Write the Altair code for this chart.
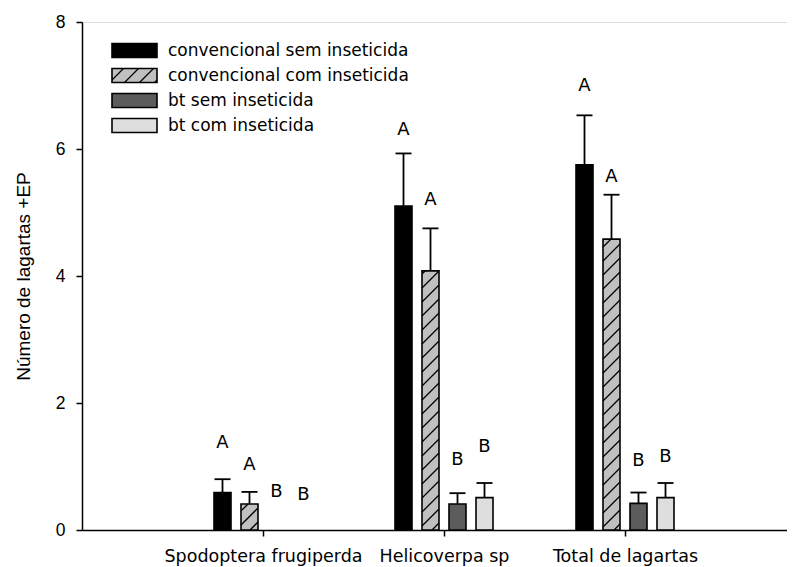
import math
import altair as alt
import pandas as pd

# ---------------- data ----------------
categories = ["Spodoptera frugiperda", "Helicoverpa sp", "Total de lagartas"]
series = [
    "convencional sem inseticida",
    "convencional com inseticida",
    "bt sem inseticida",
    "bt com inseticida",
]
means_conv_sem = [0.59, 5.10, 5.75]
means_conv_com = [0.41, 4.08, 4.58]
means_bt_sem = [0.0, 0.41, 0.42]
means_bt_com = [0.0, 0.51, 0.51]
se_conv_sem = [0.21, 0.83, 0.78]
se_conv_com = [0.19, 0.67, 0.70]
se_bt_sem = [0.0, 0.17, 0.17]
se_bt_com = [0.0, 0.23, 0.23]
letters_conv_sem = ["A", "A", "A"]
letters_conv_com = ["A", "A", "A"]
letters_bt_sem = ["B", "B", "B"]
letters_bt_com = ["B", "B", "B"]
letter_y_conv_sem = [1.37, 6.30, 7.00]
letter_y_conv_com = [1.02, 5.20, 5.56]
letter_y_bt_sem = [0.60, 1.10, 1.08]
letter_y_bt_com = [0.55, 1.31, 1.15]
y_ticks = [0, 2, 4, 6, 8]

means = [means_conv_sem, means_conv_com, means_bt_sem, means_bt_com]
ses = [se_conv_sem, se_conv_com, se_bt_sem, se_bt_com]
letters = [letters_conv_sem, letters_conv_com, letters_bt_sem, letters_bt_com]
letter_ys = [letter_y_conv_sem, letter_y_conv_com, letter_y_bt_sem, letter_y_bt_com]

# ---------------- layout / style ----------------
W, H = 705, 508
PX_X = 181.0            # pixels per category unit
PX_Y = H / 8.0          # pixels per y unit
XMAX = W / PX_X
offsets_px = [-40.5, -13.5, 13.5, 40.5]
BAR_HALF_PX = 8.5
CAP_HALF_PX = 8.0
fills = ["#000000", "#c0c0c0", "#5c5c5c", "#dedede"]
hatched = [False, True, False, False]
HATCH_SP = 14.0


def hatch(l, r, b, t, s=HATCH_SP):
    segs = []
    k0 = math.ceil((b - r) / s)
    k1 = math.floor((t - l) / s)
    for k in range(k0, k1 + 1):
        c = k * s
        u0 = max(l, b - c)
        u1 = min(r, t - c)
        if u1 > u0:
            segs.append((u0, u0 + c, u1, u1 + c))
    return segs


bar_rows, hatch_rows, err_rows, lab_rows = [], [], [], []
for si, name in enumerate(series):
    for ci, cat in enumerate(categories):
        xc = ci + 1 + offsets_px[si] / PX_X
        m = means[si][ci]
        e = ses[si][ci]
        lab_rows.append({"xc": xc, "ly": letter_ys[si][ci], "letter": letters[si][ci]})
        if m <= 0:
            continue
        x0 = xc - BAR_HALF_PX / PX_X
        x1 = xc + BAR_HALF_PX / PX_X
        bar_rows.append({"x0": x0, "x1": x1, "m": m, "base": 0.0, "fill": fills[si]})
        err_rows.append({"xc": xc, "m": m, "top": m + e,
                         "c0": xc - CAP_HALF_PX / PX_X, "c1": xc + CAP_HALF_PX / PX_X})
        if hatched[si]:
            for (u0, v0, u1, v1) in hatch(x0 * PX_X, x1 * PX_X, 0.0, m * PX_Y):
                hatch_rows.append({"hx0": u0 / PX_X, "hy0": v0 / PX_Y,
                                   "hx1": u1 / PX_X, "hy1": v1 / PX_Y})

# legend (positions in pixels of the plot area, converted to data units)
LEG_X0, LEG_X1, LEG_TX = 30, 75, 86
LEG_Y0, LEG_STEP, LEG_HALF = 28.5, 25.0, 7.0
leg_rows, leg_hatch = [], []
for si, name in enumerate(series):
    cy = LEG_Y0 + si * LEG_STEP
    top_px = H - (cy - LEG_HALF)
    bot_px = H - (cy + LEG_HALF)
    leg_rows.append({"x0": LEG_X0 / PX_X, "x1": LEG_X1 / PX_X,
                     "y0": bot_px / PX_Y, "y1": top_px / PX_Y,
                     "ty": (H - cy) / PX_Y, "tx": LEG_TX / PX_X,
                     "fill": fills[si], "name": name})
    if hatched[si]:
        for (u0, v0, u1, v1) in hatch(LEG_X0, LEG_X1, bot_px, top_px, 15.0):
            leg_hatch.append({"hx0": u0 / PX_X, "hy0": v0 / PX_Y,
                              "hx1": u1 / PX_X, "hy1": v1 / PX_Y})

bars = pd.DataFrame(bar_rows)
hatches = pd.DataFrame(hatch_rows)
errs = pd.DataFrame(err_rows)
labs = pd.DataFrame(lab_rows)
leg = pd.DataFrame(leg_rows)
legh = pd.DataFrame(leg_hatch)

label_expr = " : ".join(
    f"datum.value == {i + 1} ? '{c}'" for i, c in enumerate(categories)
) + " : ''"

xscale = alt.Scale(domain=[0, XMAX], nice=False, zero=False)
yscale = alt.Scale(domain=[0, 8], nice=False)

xaxis = alt.Axis(values=[1, 2, 3], labelExpr=label_expr, grid=False, title=None,
                 tickSize=6, tickColor="black", tickWidth=1.5,
                 domainColor="black", domainWidth=1.5,
                 labelFont="DejaVu Sans", labelFontSize=17.5, labelColor="black",
                 labelPadding=11, labelFlush=False, labelOverlap=False, labelLimit=0)
yaxis = alt.Axis(values=y_ticks, format="d", grid=False, title="Número de lagartas +EP",
                 tickSize=6, tickColor="black", tickWidth=1.5,
                 domainColor="black", domainWidth=1.5,
                 labelFont="Liberation Sans", labelFontSize=17.5, labelColor="black",
                 labelPadding=11,
                 titleFont="Liberation Sans", titleFontSize=19, titleFontWeight="normal",
                 titleColor="black", titleX=-59, titleY=254, titleAngle=270,
                 titleAlign="center", titleBaseline="middle")

X = lambda f: alt.X(f, type="quantitative", scale=xscale)
Y = lambda f: alt.Y(f, type="quantitative", scale=yscale)

bar_fill = alt.Chart(bars).mark_rect(strokeWidth=0).encode(
    x=alt.X("x0:Q", scale=xscale, axis=xaxis), x2="x1",
    y=alt.Y("m:Q", scale=yscale, axis=yaxis), y2="base",
    fill=alt.Fill("fill:N", scale=None))
hatch_lines = alt.Chart(hatches).mark_rule(color="black", strokeWidth=1.3).encode(
    x=X("hx0"), y=Y("hy0"), x2="hx1", y2="hy1")
bar_outline = alt.Chart(bars).mark_rect(fillOpacity=0, stroke="black", strokeWidth=1.6).encode(
    x=X("x0"), x2="x1", y=Y("m"), y2="base")
err_v = alt.Chart(errs).mark_rule(color="black", strokeWidth=1.8).encode(
    x=X("xc"), y=Y("m"), y2="top")
err_cap = alt.Chart(errs).mark_rule(color="black", strokeWidth=1.8).encode(
    x=X("c0"), x2="c1", y=Y("top"))
letter_text = alt.Chart(labs).mark_text(font="DejaVu Sans", fontSize=18, color="black",
                                         baseline="middle", align="center").encode(
    x=X("xc"), y=Y("ly"), text="letter:N")

leg_fill = alt.Chart(leg).mark_rect(strokeWidth=0).encode(
    x=X("x0"), x2="x1", y=Y("y0"), y2="y1", fill=alt.Fill("fill:N", scale=None))
leg_hl = alt.Chart(legh).mark_rule(color="black", strokeWidth=1.3).encode(
    x=X("hx0"), y=Y("hy0"), x2="hx1", y2="hy1")
leg_out = alt.Chart(leg).mark_rect(fillOpacity=0, stroke="black", strokeWidth=1.6).encode(
    x=X("x0"), x2="x1", y=Y("y0"), y2="y1")
leg_text = alt.Chart(leg).mark_text(font="DejaVu Sans", fontSize=17, color="black",
                                     align="left", baseline="middle").encode(
    x=X("tx"), y=Y("ty"), text="name:N")

chart = alt.layer(
    bar_fill, hatch_lines, bar_outline, err_v, err_cap, letter_text,
    leg_fill, leg_hl, leg_out, leg_text
).properties(
    width=W, height=H,
    padding={"left": 74, "top": 14, "right": 0, "bottom": 37},
    autosize=alt.AutoSizeParams(type="none"),
).configure_view(stroke=None).configure(background="white")

chart.save("out.html", embed_options={"renderer": "svg", "actions": False})
